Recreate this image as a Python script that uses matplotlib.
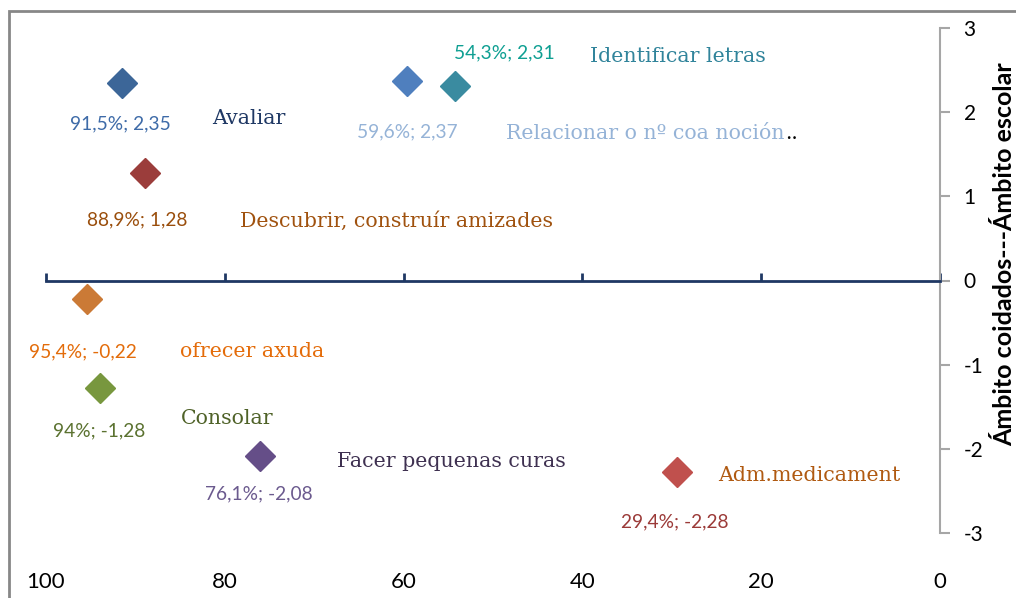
import matplotlib.pyplot as plt
from matplotlib.patches import Rectangle

plt.rcParams["axes.unicode_minus"] = False

# Actividades: % de acordo (eixo x) e posición no eixo escolar/coidados (eixo y)
nomes = ["Avaliar", "Relacionar o nº coa noción", "Identificar letras",
         "Descubrir, construír amizades", "ofrecer axuda", "Consolar",
         "Facer pequenas curas", "Adm.medicament"]
pct = [91.5, 59.6, 54.3, 88.9, 95.4, 94.0, 76.1, 29.4]
eixo = [2.35, 2.37, 2.31, 1.28, -0.22, -1.28, -2.08, -2.28]

cor_marca = ["#3C6698", "#4F7FBE", "#3A8BA0", "#9B3D3B",
             "#CB7A36", "#78973E", "#654E88", "#C0504D"]
cor_valor = ["#3E6BA8", "#95B3D7", "#0E9F92", "#9A4E0C",
             "#E36C0A", "#5B7230", "#6B5A8E", "#9B3A38"]
cor_nome = ["#1F3864", "#95B3D7", "#31849B", "#A0520F",
            "#E46C0A", "#4F6228", "#3F3151", "#B05A12"]

# desprazamentos (pixels) das etiquetas respecto de cada marca
off_valor = [(-2, -41), (0, -51), (50, 33), (-8, -47),
             (-4, -53), (-1, -43), (-1, -38), (-2, -49)]
off_nome = [(90, -36), (99, -52), (135, 30), (95, -48),
            (93, -52), (81, -30), (77, -6), (41, -3)]

xticks = [100, 80, 60, 40, 20, 0]
yticks = [-3, -2, -1, 0, 1, 2, 3]


def fmt_valor(x, y):
    xs = f"{x:.1f}".rstrip("0").rstrip(".").replace(".", ",")
    ys = f"{y:.2f}".replace(".", ",")
    return f"{xs}%; {ys}"


W, H = 1016, 598
fig = plt.figure(figsize=(W / 100, H / 100), dpi=100)
ax = fig.add_axes([46 / W, 1 - 533 / H, (940 - 46) / W, (533 - 28) / H])

# marco gris da área do gráfico
fig.add_artist(Rectangle((9 / W, -0.2), 1.5, 1 - 11 / H + 0.2,
                         transform=fig.transFigure, fill=False,
                         edgecolor="#878787", linewidth=2, clip_on=False))

for i in range(len(nomes)):
    ax.plot(pct[i], eixo[i], marker="D", ms=15, color=cor_marca[i],
            linestyle="none", zorder=3, clip_on=False)
    ax.annotate(fmt_valor(pct[i], eixo[i]), (pct[i], eixo[i]),
                xytext=off_valor[i], textcoords="offset pixels",
                ha="center", va="center", fontsize=13.8,
                family="Lato", color=cor_valor[i])
    t = ax.annotate(nomes[i], (pct[i], eixo[i]),
                    xytext=off_nome[i], textcoords="offset pixels",
                    ha="left", va="center", fontsize=14.8,
                    family="DejaVu Serif", color=cor_nome[i])
    if i == 1:
        ax.annotate("..", xy=(1, 0), xycoords=t, ha="left", va="bottom",
                    fontsize=14.8, family="DejaVu Serif", color="black")

ax.set_xlim(100, 0)
ax.set_ylim(-3, 3)

# liña horizontal en y=0 coas marcas do eixo x
ax.spines["top"].set_position(("data", 0))
ax.spines["top"].set_color("#1F3864")
ax.spines["top"].set_linewidth(2)
ax.spines["bottom"].set_visible(False)
ax.spines["left"].set_visible(False)
ax.spines["right"].set_color("#A6A6A6")
ax.spines["right"].set_linewidth(1.5)

ax.set_xticks(xticks)
ax.set_xticklabels([str(v) for v in xticks])
ax.tick_params(axis="x", top=True, bottom=False, labeltop=False,
               labelbottom=True, direction="out", length=6, width=2,
               color="#1F3864", pad=22, labelsize=16)
for lab in ax.get_xticklabels():
    lab.set_family("Lato")

ax.set_yticks(yticks)
ax.yaxis.tick_right()
ax.tick_params(axis="y", direction="out", length=7, width=1.5,
               color="#A6A6A6", pad=10, labelsize=15)
for lab in ax.get_yticklabels():
    lab.set_family("Lato")
ax.yaxis.set_label_position("right")
ax.set_ylabel("Ámbito coidados---Ámbito escolar", family="Lato",
              fontweight="bold", fontsize=18)
ax.yaxis.set_label_coords(1.059, 0.553)

fig.savefig("out.png", dpi=100)
